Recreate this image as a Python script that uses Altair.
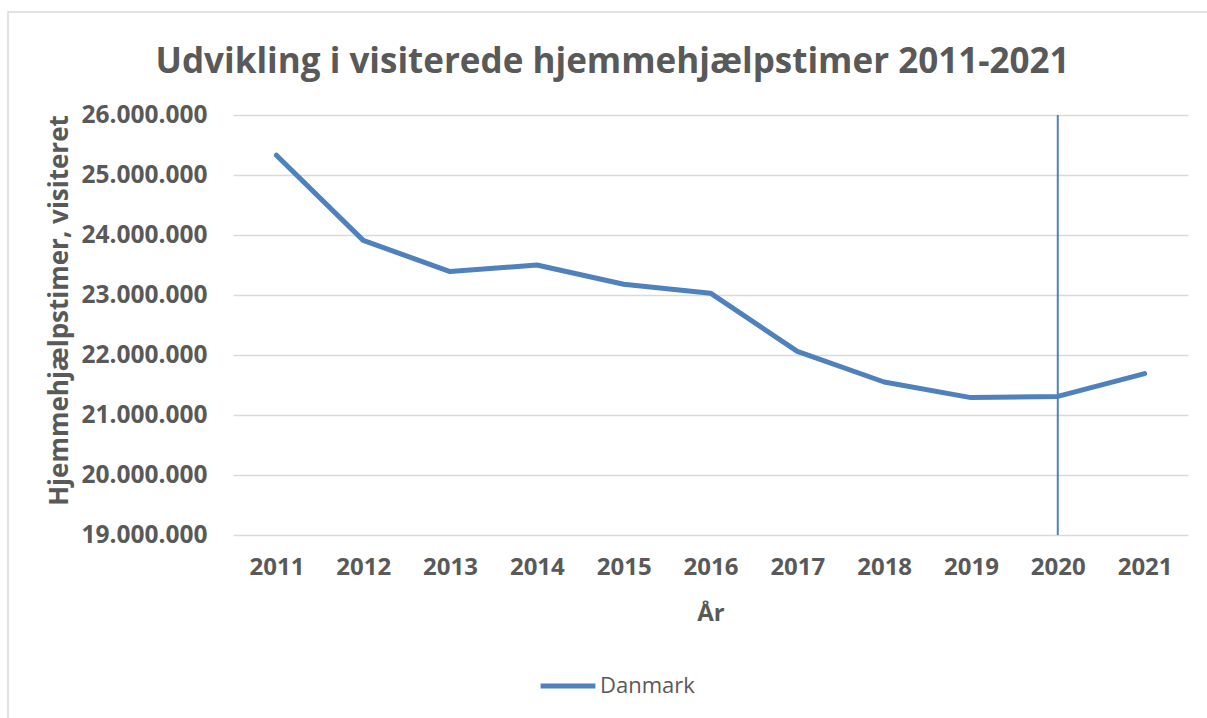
import altair as alt
import pandas as pd

years = ["2011", "2012", "2013", "2014", "2015", "2016", "2017", "2018", "2019", "2020", "2021"]
timer = [25330000, 23910000, 23390000, 23500000, 23180000, 23030000, 22060000, 21550000, 21290000, 21310000, 21690000]
series = "Danmark"
marker_year = "2020"
y_ticks = [19000000, 20000000, 21000000, 22000000, 23000000, 24000000, 25000000, 26000000]

df = pd.DataFrame({"År": years, "Timer": timer, "Serie": [series] * len(years)})
marker = pd.DataFrame({"År": [marker_year], "y1": [26000000], "y2": [19000000]})

FONT = "Open Sans"
GREY = "#595959"
BLUE = "#4F81BD"

W, H = 955, 420
PL, PT = 233, 115

label_expr = "replace(replace(format(datum.value, ','), ',', '.'), ',', '.')"

x_scale = alt.Scale(type="point", padding=0.5, domain=years)

x_enc = alt.X(
    "År:O",
    sort=years,
    scale=x_scale,
    axis=alt.Axis(
        title="År", labelAngle=0, labelAlign="center", labelFont=FONT, labelFontSize=24,
        labelFontWeight="bold", labelColor=GREY, titleFont=FONT, titleFontSize=24,
        titleFontWeight="bold", titleColor=GREY, ticks=False, domain=False, grid=False,
        labelPadding=32, titlePadding=22,
    ),
)

y_scale = alt.Scale(domain=[19000000, 26000000], nice=False, zero=False)

line = alt.Chart(df).mark_line(strokeWidth=5, strokeCap="round", strokeJoin="round").encode(
    x=x_enc,
    y=alt.Y(
        "Timer:Q",
        scale=y_scale,
        axis=alt.Axis(
            title="Hjemmehjælpstimer, visiteret", values=y_ticks, labelExpr=label_expr,
            labelFont=FONT, labelFontSize=24.5, labelFontWeight="bold", labelColor=GREY,
            titleFont=FONT, titleFontSize=26, titleFontWeight="bold", titleColor=GREY,
            ticks=False, domain=False, grid=True, gridColor="#D9D9D9", gridWidth=1.5,
            labelPadding=26, titleX=-166, titleY=195, titleAngle=-90, titleAlign="center",
            titleBaseline="alphabetic",
        ),
    ),
    color=alt.Color(
        "Serie:N",
        scale=alt.Scale(domain=[series], range=[BLUE]),
        legend=alt.Legend(
            title=None, orient="none", legendX=305, legendY=541, symbolType="stroke",
            symbolSize=3000, symbolStrokeWidth=5, labelFont=FONT, labelFontSize=22,
            labelColor=GREY, labelOffset=2,
        ),
    ),
)

rule = alt.Chart(marker).mark_rule(color=BLUE, strokeWidth=2).encode(
    x=alt.X("År:O", sort=years, scale=x_scale),
    y=alt.Y("y1:Q", scale=y_scale),
    y2="y2:Q",
)

frame = alt.Chart(marker).mark_rect(fill=None, stroke="#D9D9D9", strokeWidth=1.5, clip=False).encode(
    x=alt.value(8 - PL), x2=alt.value(1400), y=alt.value(12 - PT), y2=alt.value(900)
)

chart = alt.layer(frame, rule, line).properties(
    width=W,
    height=H,
    autosize=alt.AutoSizeParams(type="none"),
    padding={"left": PL, "top": PT, "right": 1207 - PL - W, "bottom": 718 - PT - H},
    title=alt.TitleParams(
        "Udvikling i visiterede hjemmehjælpstimer 2011-2021", font=FONT, fontSize=35,
        fontWeight="bold", color=GREY, anchor="middle", dx=-98, offset=0, dy=97,
        baseline="alphabetic",
    ),
).configure(background="white").configure_view(stroke=None)

chart.save("out.html", embed_options={"renderer": "svg", "actions": False})
